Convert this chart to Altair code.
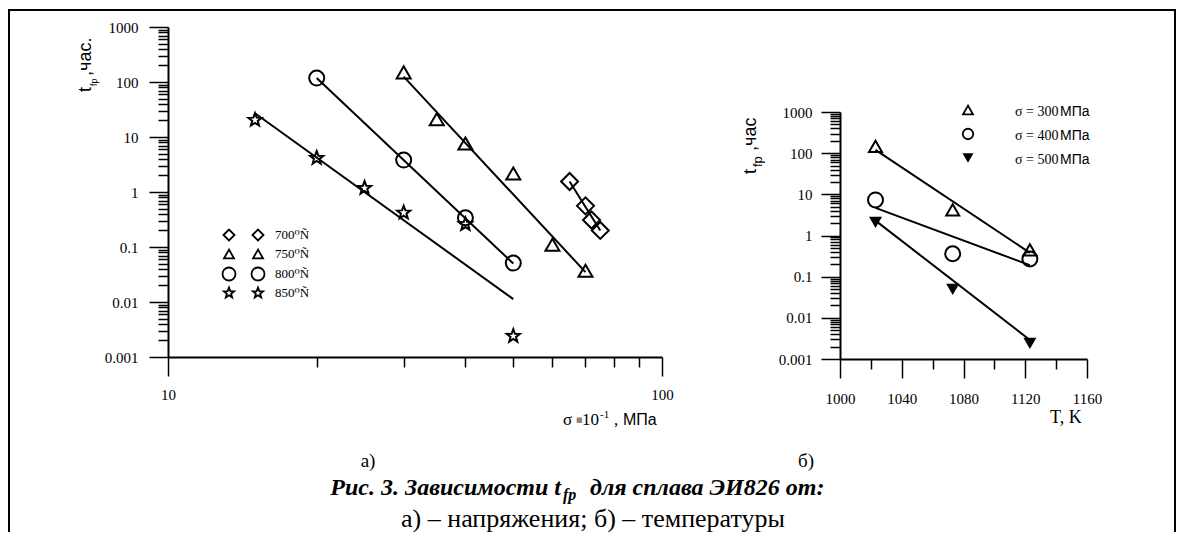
import altair as alt
import pandas as pd

# ---------------- data ----------------
# panel a): sigma*10^-1 (MPa) vs t_fp (hours), log-log
x_700 = [65, 70, 72, 75]
y_700 = [1.55, 0.56, 0.31, 0.2]
x_750 = [30, 35, 40, 50, 60, 70]
y_750 = [150, 21, 7.6, 2.17, 0.11, 0.037]
x_800 = [20, 30, 40, 50]
y_800 = [118, 3.8, 0.34, 0.051]
x_850 = [15, 20, 25, 30, 40, 50]
y_850 = [20.4, 4.15, 1.18, 0.42, 0.26, 0.0024]

fit_x_700 = [65, 75]
fit_y_700 = [1.55, 0.2]
fit_x_750 = [30, 70]
fit_y_750 = [125, 0.035]
fit_x_800 = [20, 50]
fit_y_800 = [118, 0.05]
fit_x_850 = [15, 50]
fit_y_850 = [27, 0.0113]

legend_a = ["700⁰Ñ", "750⁰Ñ", "800⁰Ñ", "850⁰Ñ"]

# panel б): T (K) vs t_fp (hours)
T_vals = [1023, 1073, 1123]
y_300 = [146, 4.2, 0.45]
y_400 = [7.3, 0.36, 0.27]
y_500 = [2.08, 0.049, 0.0024]

fit_T = [1023, 1123]
fit_y_300 = [120, 0.38]
fit_y_400 = [4.7, 0.19]
fit_y_500 = [2.3, 0.0029]

legend_b = ["σ = 300", "σ = 400", "σ = 500"]

# axis tick values
decades = [0.001, 0.01, 0.1, 1, 10, 100, 1000]
minor_log = [k * 10.0 ** e for e in range(-3, 3) for k in range(2, 10)]
xa_major = [10, 100]
xa_minor = [20, 30, 40, 50, 60, 70, 80, 90]
xb_major = [1000, 1040, 1080, 1120, 1160]
xb_minor = [1020, 1060, 1100, 1140]

# ---------------- layout ----------------
W, H = 1168, 524
SERIF = "Liberation Serif, Times New Roman, DejaVu Serif, serif"
SANS = "Liberation Sans, Arial, sans-serif"

XA = dict(type="log", domain=[10, 100], range=[160, 654], nice=False)
YA = dict(type="log", domain=[0.001, 1000], range=[349, 19], nice=False)
XB = dict(type="linear", domain=[1000, 1160], range=[832, 1079], nice=False, zero=False)
YB = dict(type="log", domain=[0.001, 1000], range=[351, 104], nice=False)

STAR = ("M0,-1L0.247,-0.34L0.951,-0.309L0.399,0.13L0.588,0.809L0,0.42"
        "L-0.588,0.809L-0.399,0.13L-0.951,-0.309L-0.247,-0.34Z")


def sc(d):
    return alt.Scale(**d)


def pts(xs, ys, xsc, ysc, shape, size, filled=False, sw=2):
    df = pd.DataFrame({"x": xs, "y": ys})
    return alt.Chart(df).mark_point(
        shape=shape, size=size, filled=filled, color="black",
        strokeWidth=sw, opacity=1
    ).encode(
        x=alt.X("x:Q", scale=sc(xsc), axis=None),
        y=alt.Y("y:Q", scale=sc(ysc), axis=None),
    )


def line(xs, ys, xsc, ysc):
    df = pd.DataFrame({"x": xs, "y": ys})
    return alt.Chart(df).mark_line(color="black", strokeWidth=2).encode(
        x=alt.X("x:Q", scale=sc(xsc), axis=None),
        y=alt.Y("y:Q", scale=sc(ysc), axis=None),
    )


def axes(xsc, ysc, xvals, yvals, xoff, yoff, tick, labels, domain, xpad, ypad, xfmt):
    df = pd.DataFrame({"x": [xsc["domain"][0]], "y": [ysc["domain"][0]]})
    common = dict(tickSize=tick, tickWidth=1.5, tickColor="black",
                  domain=domain, domainColor="black", domainWidth=2,
                  labels=labels, grid=False, title=None,
                  labelFont=SERIF, labelFontSize=15, labelColor="black",
                  labelFlush=False, labelOverlap=False)
    return alt.Chart(df).mark_point(opacity=0).encode(
        x=alt.X("x:Q", scale=sc(xsc),
                axis=alt.Axis(orient="bottom", offset=xoff, values=xvals,
                              labelPadding=xpad, format=xfmt, **common)),
        y=alt.Y("y:Q", scale=sc(ysc),
                axis=alt.Axis(orient="left", offset=yoff, values=yvals,
                              labelPadding=ypad, format="~g", **common)),
    )


def text(s, x, y, size, font=SERIF, angle=0, align="left",
         baseline="alphabetic", weight="normal", style="normal", color="black"):
    return alt.Chart(pd.DataFrame({"t": [s]})).mark_text(
        align=align, baseline=baseline, font=font, fontSize=size,
        angle=angle, fontWeight=weight, fontStyle=style, color=color
    ).encode(x=alt.value(x), y=alt.value(y), text="t:N")


def sym(shape, x, y, size, filled=False):
    return alt.Chart(pd.DataFrame({"a": [0]})).mark_point(
        shape=shape, size=size, filled=filled, color="black",
        strokeWidth=1.8, opacity=1
    ).encode(x=alt.value(x), y=alt.value(y))


def rule(**kw):
    return alt.Chart(pd.DataFrame({"a": [0]})).mark_rule(
        color="black", strokeWidth=2).encode(**kw)


layers = []

# frame
layers += [
    rule(x=alt.value(0), x2=alt.value(W), y=alt.value(2)),
    rule(x=alt.value(1), y=alt.value(2), y2=alt.value(H)),
    rule(x=alt.value(W - 1), y=alt.value(2), y2=alt.value(H)),
]

# ---- panel a) axes ----
layers += [
    axes(XA, YA, xa_major, decades, 349 - H, -160, 19, True, True, 11, 11, "d"),
    axes(XA, YA, xa_minor, minor_log, 349 - H, -160, 10, False, False, 11, 11, "d"),
]
# fit lines
layers += [
    line(fit_x_700, fit_y_700, XA, YA),
    line(fit_x_750, fit_y_750, XA, YA),
    line(fit_x_800, fit_y_800, XA, YA),
    line(fit_x_850, fit_y_850, XA, YA),
]
# points
layers += [
    pts(x_700, y_700, XA, YA, "diamond", 289),
    pts(x_750, y_750, XA, YA, "triangle-up", 196),
    pts(x_800, y_800, XA, YA, "circle", 225),
    pts(x_850, y_850, XA, YA, STAR, 190),
]
# legend a)
shapes_a = [("diamond", 121), ("triangle-up", 100), ("circle", 169), (STAR, 115)]
rows_a = [227, 246, 266, 285]
for (shp, sz), ry, lab in zip(shapes_a, rows_a, legend_a):
    layers += [sym(shp, 221, ry, sz), sym(shp, 250, ry, sz),
               text(lab, 267, ry, 13, baseline="middle")]

# y title a)
layers += [
    text("t", 78, 84, 18, font=SANS, angle=270, baseline="middle"),
    text("fp", 86, 78, 9, font=SANS, angle=270, baseline="middle"),
    text(",час.", 78, 68, 18, font=SANS, angle=270, baseline="middle"),
]
# x title a)
layers += [
    text("σ", 555, 417, 17),
    text("■", 568, 414, 7, font="DejaVu Sans", color="#888888"),
    text("10", 574, 417, 17),
    text("-1", 592, 410, 11),
    text(",", 606, 417, 17),
    text("МПа", 615, 417, 16, font=SANS),
]

# ---- panel б) axes ----
layers += [
    axes(XB, YB, xb_major, decades, 351 - H, -832, 19, True, True, 13, 9, "d"),
    axes(XB, YB, xb_minor, minor_log, 351 - H, -832, 10, False, False, 13, 9, "d"),
]
layers += [
    line(fit_T, fit_y_300, XB, YB),
    line(fit_T, fit_y_400, XB, YB),
    line(fit_T, fit_y_500, XB, YB),
]
layers += [
    pts(T_vals, y_300, XB, YB, "triangle-up", 169),
    pts(T_vals, y_400, XB, YB, "circle", 225),
    pts(T_vals, y_500, XB, YB, "triangle-down", 169, filled=True),
]
# legend б)
shapes_b = [("triangle-up", 100, False), ("circle", 110, False), ("triangle-down", 120, True)]
rows_b = [102, 126, 150]
for (shp, sz, fl), ry, lab in zip(shapes_b, rows_b, legend_b):
    layers += [sym(shp, 960, ry, sz, filled=fl),
               text(lab, 1007, ry + 2, 14, baseline="middle"),
               text("МПа", 1052, ry + 2, 14, font=SANS, baseline="middle")]

# y title б)
layers += [
    text("t", 743, 166, 18, font=SANS, angle=270, baseline="middle"),
    text("fp", 750, 159, 13, font=SANS, angle=270, baseline="middle"),
    text(",час", 743, 143, 18, font=SANS, angle=270, baseline="middle"),
]
# x title б)
layers += [text("T, K", 1042, 415, 18)]

# panel letters
layers += [
    text("а)", 360, 453, 19, align="center", baseline="middle"),
    text("б)", 798, 453, 19, align="center", baseline="middle"),
]

# caption
layers += [
    text("Рис. 3. Зависимости t", 553, 487, 24, align="right",
         weight="bold", style="italic"),
    text("fp", 555, 492, 16, weight="bold", style="italic"),
    text("для сплава ЭИ826 от:", 582, 487, 24, weight="bold", style="italic"),
    text("а) – напряжения; б) – температуры", 585, 519, 26, align="center"),
]

chart = alt.layer(*layers).resolve_scale(
    x="independent", y="independent"
).resolve_axis(
    x="independent", y="independent"
).properties(
    width=W, height=H, autosize=alt.AutoSizeParams(type="none"), padding=0,
    background="white"
).configure_view(strokeWidth=0)

chart.save("out.html", embed_options={"renderer": "svg", "actions": False})
